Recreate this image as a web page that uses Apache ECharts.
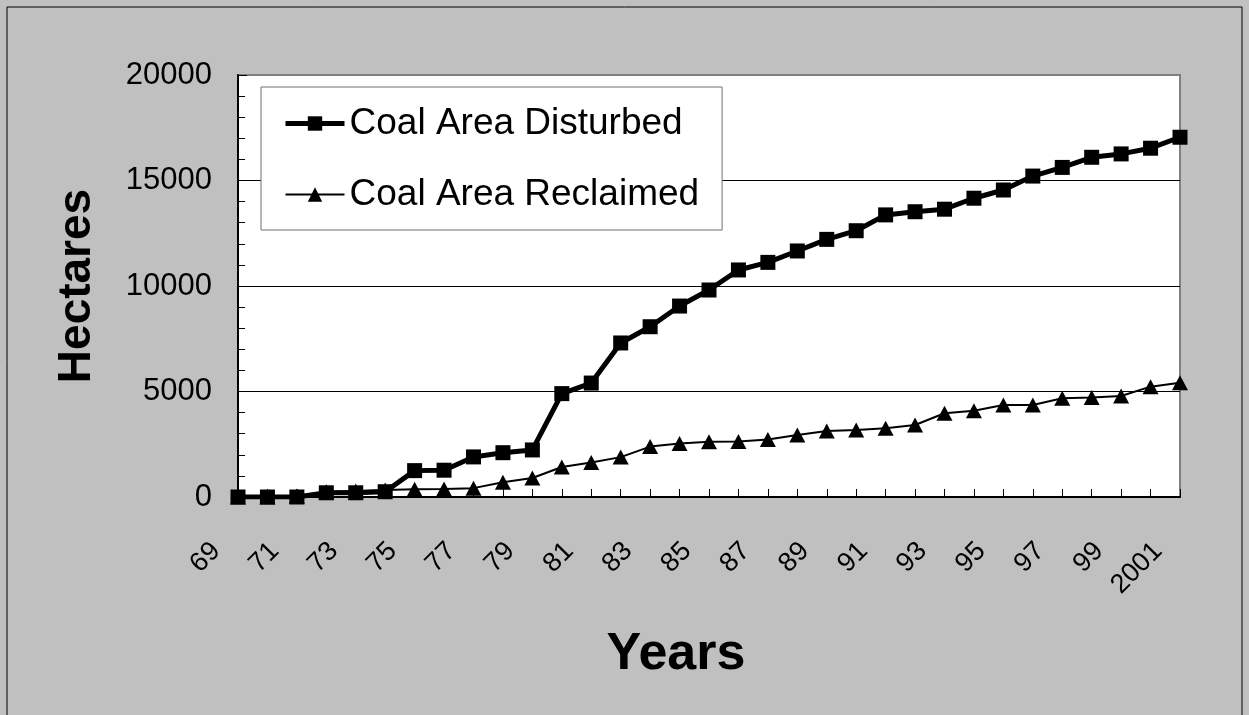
<!DOCTYPE html>
<html>
<head>
<meta charset="utf-8">
<title>Coal Area Disturbed vs Reclaimed</title>
<script src="https://cdn.jsdelivr.net/npm/echarts@6/dist/echarts.min.js"></script>
<style>
  html, body { margin: 0; padding: 0; background: #c0c0c0; }
  #chart { width: 1249px; height: 715px; }
</style>
</head>
<body>
<div id="chart"></div>
<script>
  // years on the x axis (69 .. 2001)
  const years = ['69', '70', '71', '72', '73', '74', '75', '76', '77', '78', '79',
    '80', '81', '82', '83', '84', '85', '86', '87', '88', '89', '90',
    '91', '92', '93', '94', '95', '96', '97', '98', '99', '2000', '2001'];

  // hectares
  const disturbed = [0, 0, 0, 200, 200, 250, 1250, 1270, 1900, 2100, 2230,
    4900, 5400, 7300, 8070, 9050, 9810, 10760, 11120, 11660, 12210, 12620,
    13370, 13520, 13640, 14160, 14550, 15210, 15620, 16100, 16260, 16530, 17050];
  const reclaimed = [0, 0, 50, 250, 280, 330, 370, 380, 420, 700, 900,
    1420, 1630, 1890, 2390, 2540, 2620, 2630, 2730, 2940, 3130, 3180,
    3260, 3410, 3970, 4090, 4360, 4360, 4680, 4710, 4790, 5230, 5420];

  const font = "'Liberation Sans', Arial, sans-serif";

  let myChart = echarts.init(document.getElementById('chart'));
  myChart.setOption({
    backgroundColor: '#c0c0c0',
    animation: false,
    graphic: [{
      type: 'rect',
      shape: { x: 7, y: 7, width: 1235, height: 720 },
      style: { fill: null, stroke: '#000', lineWidth: 1 },
      silent: true
    }],
    grid: {
      left: 238, right: 69, top: 75, bottom: 218,
      show: true,
      backgroundColor: '#fff',
      borderColor: '#808080',
      borderWidth: 2
    },
    legend: {
      data: ['Coal Area Disturbed', 'Coal Area Reclaimed'],
      orient: 'vertical',
      left: 261,
      top: 87,
      padding: [18, 23, 17, 22],
      itemGap: 34,
      itemWidth: 59,
      itemHeight: 18,
      lineStyle: { width: 'inherit' },
      backgroundColor: '#fff',
      borderColor: '#707070',
      borderWidth: 1,
      textStyle: { fontFamily: font, fontSize: 37, color: '#000' }
    },
    xAxis: {
      type: 'category',
      data: years,
      boundaryGap: false,
      name: 'Years',
      nameLocation: 'middle',
      nameGap: 132,
      nameTextStyle: {
        fontFamily: font, fontSize: 52, fontWeight: 'bold', color: '#000',
        padding: [0, 66, 0, 0]
      },
      axisLine: { lineStyle: { color: '#000', width: 2 } },
      axisTick: { show: true, inside: true, length: 8, interval: 0, lineStyle: { color: '#000' } },
      axisLabel: {
        interval: 1, rotate: 45, margin: 28,
        padding: [0, 31, 0, 0],
        fontFamily: font, fontSize: 27, color: '#000'
      },
      splitLine: { show: false }
    },
    yAxis: {
      type: 'value',
      min: 0, max: 20000, interval: 5000,
      name: 'Hectares',
      nameLocation: 'middle',
      nameGap: 138,
      nameTextStyle: { fontFamily: font, fontSize: 46, fontWeight: 'bold', color: '#000' },
      axisLine: { show: true, lineStyle: { color: '#000', width: 2 } },
      axisTick: { show: true, inside: true, length: 9, lineStyle: { color: '#000' } },
      minorTick: { show: true, splitNumber: 5, length: 7, lineStyle: { color: '#000' } },
      axisLabel: {
        margin: 26, fontFamily: font, fontSize: 31, color: '#000',
        formatter: function (v) { return String(v); }
      },
      splitLine: { show: true, showMaxLine: false, lineStyle: { color: '#000', width: 1 } }
    },
    series: [
      {
        name: 'Coal Area Disturbed',
        type: 'line',
        data: disturbed,
        z: 3,
        symbol: 'rect',
        symbolSize: 15,
        lineStyle: { color: '#000', width: 5 },
        itemStyle: { color: '#000' }
      },
      {
        name: 'Coal Area Reclaimed',
        type: 'line',
        data: reclaimed,
        z: 2,
        symbol: 'triangle',
        symbolSize: [16, 15],
        lineStyle: { color: '#000', width: 2 },
        itemStyle: { color: '#000' }
      }
    ]
  });
</script>
</body>
</html>
